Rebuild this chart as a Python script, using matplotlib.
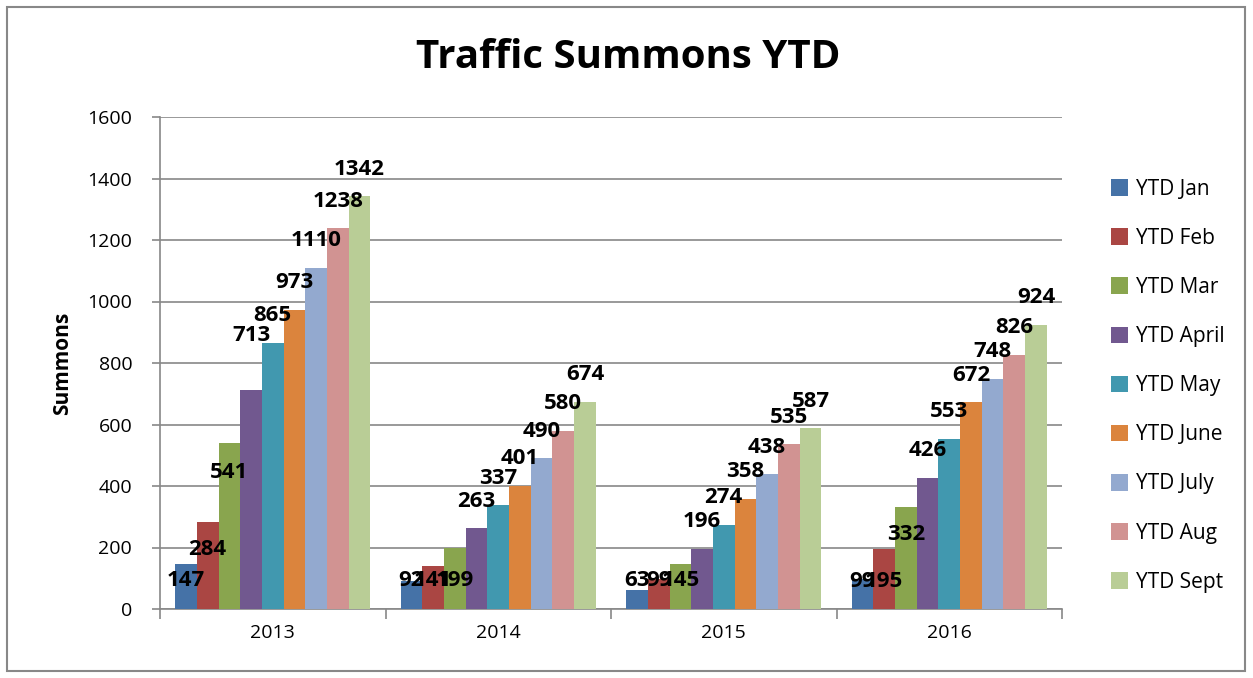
import matplotlib
matplotlib.use("Agg")
import matplotlib.pyplot as plt
import numpy as np
from matplotlib.patches import Rectangle

years = ["2013", "2014", "2015", "2016"]
series_names = ["YTD Jan", "YTD Feb", "YTD Mar", "YTD April", "YTD May",
                "YTD June", "YTD July", "YTD Aug", "YTD Sept"]
ytd_jan = [147, 92, 63, 99]
ytd_feb = [284, 141, 99, 195]
ytd_mar = [541, 199, 145, 332]
ytd_apr = [713, 263, 196, 426]
ytd_may = [865, 337, 274, 553]
ytd_jun = [973, 401, 358, 672]
ytd_jul = [1110, 490, 438, 748]
ytd_aug = [1238, 580, 535, 826]
ytd_sep = [1342, 674, 587, 924]
series = [ytd_jan, ytd_feb, ytd_mar, ytd_apr, ytd_may, ytd_jun, ytd_jul, ytd_aug, ytd_sep]
colors = ["#4572A7", "#AA4643", "#89A54E", "#71588F", "#4198AF",
          "#DB843D", "#93A9CF", "#D19392", "#B9CD96"]

# label placement style: default offset above bar, some labels sit lower (as in original)
label_offset = 88
label_override = {(0, 0): 94, (1, 0): 94, (2, 0): 94, (3, 0): 90,
                  (0, 1): 192, (1, 1): 94, (2, 1): 94, (3, 1): 90,
                  (0, 2): 445, (1, 2): 94, (2, 2): 94, (3, 2): 241,
                  (0, 3): 891}

FONT = "Open Sans"
W, H = 1253, 678
fig = plt.figure(figsize=(W / 100, H / 100), dpi=100)
fig.patches.append(Rectangle((7 / W, 7 / H), 1238 / W, 664 / H, transform=fig.transFigure,
                             fill=False, edgecolor="#888888", linewidth=1.5))

ax = fig.add_axes([160 / W, 1 - 609 / H, (1062 - 160) / W, (609 - 117) / H])
x = np.arange(len(years))
bw = 0.0962
n = len(series)
for i, (vals, c, name) in enumerate(zip(series, colors, series_names)):
    pos = x + (i - (n - 1) / 2) * bw
    ax.bar(pos, vals, width=bw, color=c, label=name, zorder=3, linewidth=0)
for i, (vals, c) in enumerate(zip(series, colors)):
    pos = x + (i - (n - 1) / 2) * bw
    for j, v in enumerate(vals):
        yy = label_override.get((j, i), v + label_offset)
        ax.text(pos[j], yy, str(v), ha="center", va="center", fontsize=16,
                fontweight="bold", family=FONT, zorder=5)

ax.set_xlim(-0.5, 3.5)
ax.set_ylim(0, 1600)
ax.set_yticks(range(0, 1601, 200))
ax.set_yticklabels([str(v) for v in range(0, 1601, 200)], fontsize=14, family=FONT)
ax.yaxis.grid(True, color="#888888", linewidth=1.2, zorder=0)
ax.set_axisbelow(True)
ax.set_xticks(x)
ax.set_xticklabels(years, fontsize=14, family=FONT)
ax.tick_params(axis="x", length=0, pad=11)
ax.set_xticks(np.arange(-0.5, 3.6, 1), minor=True)
ax.tick_params(axis="x", which="minor", length=7, color="#888888", width=1.2)
ax.tick_params(axis="y", length=6, color="#888888", width=1.2, pad=14)
for s in ["top", "right"]:
    ax.spines[s].set_visible(False)
for s in ["left", "bottom"]:
    ax.spines[s].set_color("#888888")
    ax.spines[s].set_linewidth(1.2)
ax.set_ylabel("Summons", fontsize=15, fontweight="bold", family=FONT, labelpad=10)

fig.text(628 / W, 1 - 57 / H, "Traffic Summons YTD", ha="center", va="center",
         fontsize=29, fontweight="bold", family=FONT)

handles, labels = ax.get_legend_handles_labels()
leg = fig.legend(handles, labels, loc="upper left", bbox_to_anchor=(1092 / W, 1 - 160 / H),
                 frameon=False, handlelength=0.85, handleheight=0.85,
                 handletextpad=0.35, labelspacing=1.35, prop={"family": FONT, "size": 15})

fig.savefig("out.png", dpi=100)
